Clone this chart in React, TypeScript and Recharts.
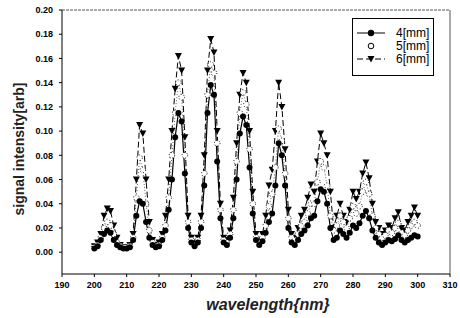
import { Line, LineChart, ReferenceLine, XAxis, YAxis } from "recharts";

const WAVELENGTHS = [
  200, 201, 202, 203, 204, 205, 206, 207, 208, 209, 210, 211, 212, 213, 214, 215, 216, 217, 218, 219,
  220, 221, 222, 223, 224, 225, 226, 227, 228, 229, 230, 231, 232, 233, 234, 235, 236, 237, 238, 239,
  240, 241, 242, 243, 244, 245, 246, 247, 248, 249, 250, 251, 252, 253, 254, 255, 256, 257, 258, 259,
  260, 261, 262, 263, 264, 265, 266, 267, 268, 269, 270, 271, 272, 273, 274, 275, 276, 277, 278, 279,
  280, 281, 282, 283, 284, 285, 286, 287, 288, 289, 290, 291, 292, 293, 294, 295, 296, 297, 298, 299,
  300,
];

const MM4 = [
  0.003, 0.005, 0.01, 0.015, 0.018, 0.016, 0.01, 0.006, 0.004, 0.003, 0.003, 0.004, 0.01, 0.03, 0.042,
  0.04, 0.025, 0.012, 0.006, 0.004, 0.005, 0.01, 0.018, 0.035, 0.06, 0.095, 0.115, 0.108, 0.065, 0.02,
  0.008, 0.005, 0.008, 0.02, 0.055, 0.115, 0.138, 0.13, 0.075, 0.028, 0.008, 0.006, 0.012, 0.028, 0.06,
  0.098, 0.112, 0.105, 0.07, 0.032, 0.01, 0.006, 0.009, 0.016, 0.025, 0.032, 0.055, 0.09, 0.08, 0.055,
  0.02, 0.008, 0.006, 0.01, 0.015, 0.018, 0.022, 0.028, 0.03, 0.042, 0.052, 0.05, 0.04, 0.02, 0.01,
  0.012, 0.018, 0.015, 0.012, 0.016, 0.022, 0.02, 0.024, 0.03, 0.034, 0.028, 0.018, 0.012, 0.008, 0.006,
  0.008, 0.01, 0.009, 0.011, 0.014, 0.01, 0.008, 0.01, 0.012, 0.014, 0.013,
];

const MM5 = [
  0.004, 0.006, 0.012, 0.02, 0.025, 0.022, 0.015, 0.008, 0.005, 0.004, 0.004, 0.005, 0.012, 0.045, 0.078,
  0.068, 0.04, 0.018, 0.008, 0.005, 0.006, 0.012, 0.022, 0.045, 0.08, 0.115, 0.14, 0.128, 0.08, 0.025,
  0.01, 0.006, 0.01, 0.025, 0.065, 0.13, 0.155, 0.148, 0.09, 0.035, 0.01, 0.008, 0.015, 0.035, 0.075,
  0.115, 0.132, 0.122, 0.085, 0.04, 0.012, 0.008, 0.012, 0.022, 0.038, 0.048, 0.07, 0.102, 0.092, 0.065,
  0.028, 0.012, 0.01, 0.015, 0.022, 0.025, 0.032, 0.04, 0.04, 0.058, 0.075, 0.07, 0.055, 0.03, 0.018,
  0.022, 0.03, 0.025, 0.02, 0.028, 0.038, 0.032, 0.038, 0.05, 0.058, 0.048, 0.03, 0.02, 0.015, 0.012,
  0.014, 0.018, 0.016, 0.02, 0.024, 0.016, 0.014, 0.018, 0.022, 0.025, 0.022,
];

const MM6 = [
  0.005, 0.008, 0.015, 0.03, 0.036, 0.034, 0.022, 0.012, 0.006, 0.004, 0.004, 0.006, 0.015, 0.06, 0.105,
  0.098, 0.06, 0.025, 0.01, 0.006, 0.008, 0.015, 0.03, 0.06, 0.1, 0.135, 0.162, 0.15, 0.095, 0.03,
  0.012, 0.008, 0.012, 0.03, 0.08, 0.15, 0.176, 0.165, 0.1, 0.04, 0.012, 0.01, 0.018, 0.045, 0.09,
  0.13, 0.148, 0.14, 0.1, 0.05, 0.015, 0.01, 0.015, 0.03, 0.055, 0.068, 0.1, 0.14, 0.12, 0.085,
  0.035, 0.015, 0.012, 0.02, 0.03, 0.035, 0.045, 0.056, 0.05, 0.075, 0.098, 0.09, 0.08, 0.05, 0.02,
  0.03, 0.04, 0.03, 0.025, 0.035, 0.05, 0.044, 0.05, 0.065, 0.074, 0.061, 0.04, 0.025, 0.02, 0.015,
  0.018, 0.022, 0.02, 0.028, 0.033, 0.02, 0.018, 0.025, 0.03, 0.037, 0.03,
];

const X_TICKS = [190, 200, 210, 220, 230, 240, 250, 260, 270, 280, 290, 300, 310];
const Y_TICKS = [0, 0.02, 0.04, 0.06, 0.08, 0.1, 0.12, 0.14, 0.16, 0.18, 0.2];
const LEGEND_NAMES = ["4[mm]", "5[mm]", "6[mm]"];

const data = WAVELENGTHS.map((w, i) => ({
  wavelength: w,
  mm4: MM4[i],
  mm5: MM5[i],
  mm6: MM6[i],
}));

const FONT = "'Liberation Sans', Arial, sans-serif";

const Triangle = (props: any) => {
  const { cx, cy, index } = props;
  if (cx == null || cy == null) return <g key={`t-${index}`} />;
  return <path key={`t-${index}`} d={`M${cx - 3.5},${cy - 3} L${cx + 3.5},${cy - 3} L${cx},${cy + 3.5} Z`} fill="#000" />;
};

const YLabel = (props: any) => {
  const { viewBox } = props;
  const x = viewBox.x + 11;
  const y = viewBox.y + viewBox.height / 2 + 7;
  return (
    <text
      x={x}
      y={y}
      transform={`rotate(-90 ${x} ${y})`}
      textAnchor="middle"
      dominantBaseline="central"
      fontSize={14}
      fontWeight="bold"
      fontFamily={FONT}
      fill="#222"
    >
      signal intensity[arb]
    </text>
  );
};

const XLabel = (props: any) => {
  const { viewBox } = props;
  return (
    <text
      x={viewBox.x + viewBox.width / 2 + 12}
      y={viewBox.y + 36}
      textAnchor="middle"
      fontSize={16}
      fontStyle="italic"
      fontWeight="bold"
      fontFamily={FONT}
      fill="#222"
    >
      wavelength{"{nm}"}
    </text>
  );
};

function LegendBox() {
  return (
    <svg width={82} height={58} style={{ position: "absolute", left: 352, top: 18 }}>
      <rect x={0.5} y={0.5} width={81} height={57} fill="#fff" stroke="#000" strokeWidth={1} />
      <line x1={5} y1={15} x2={33} y2={15} stroke="#000" />
      <circle cx={19} cy={15} r={3.2} fill="#000" />
      <text x={44} y={19} fontSize={12} fontFamily={FONT}>{LEGEND_NAMES[0]}</text>
      <circle cx={19} cy={28} r={2.8} fill="#fff" stroke="#000" />
      <text x={44} y={32} fontSize={12} fontFamily={FONT}>{LEGEND_NAMES[1]}</text>
      <line x1={5} y1={41} x2={33} y2={41} stroke="#000" strokeDasharray="6 3" />
      <path d="M15.5,38 L22.5,38 L19,44.5 Z" fill="#000" />
      <text x={44} y={45} fontSize={12} fontFamily={FONT}>{LEGEND_NAMES[2]}</text>
    </svg>
  );
}

export default function App() {
  return (
    <div style={{ position: "absolute", left: 0, top: 0, width: 460, height: 318, background: "#fff" }}>
      <LineChart width={460} height={318} data={data} margin={{ top: 10, right: 10, bottom: 14, left: 8 }}>
        <XAxis
          dataKey="wavelength"
          type="number"
          domain={[190, 310]}
          ticks={X_TICKS}
          height={30}
          tickSize={3}
          tickMargin={5}
          stroke="#000"
          tick={{ fontSize: 9, fontWeight: "bold", fill: "#000", fontFamily: FONT }}
          label={<XLabel />}
        />
        <YAxis
          type="number"
          domain={[-0.018, 0.2]}
          ticks={Y_TICKS}
          width={54}
          tickSize={3}
          tickMargin={6}
          stroke="#000"
          tickFormatter={(v: number) => v.toFixed(2)}
          tick={{ fontSize: 9, fontWeight: "bold", fill: "#000", fontFamily: FONT }}
          label={<YLabel />}
        />
        <ReferenceLine y={0.2} stroke="#555" strokeDasharray="3 1" />
        <ReferenceLine x={310} stroke="#555" />
        <Line
          dataKey="mm6"
          type="linear"
          stroke="#000"
          strokeWidth={1}
          strokeDasharray="6 3"
          dot={Triangle}
          activeDot={false}
          isAnimationActive={false}
        />
        <Line
          dataKey="mm5"
          type="linear"
          stroke="#000"
          strokeWidth={0.6}
          strokeDasharray="1 2"
          dot={{ r: 2.8, fill: "#fff", stroke: "#000", strokeWidth: 1 }}
          activeDot={false}
          isAnimationActive={false}
        />
        <Line
          dataKey="mm4"
          type="linear"
          stroke="#000"
          strokeWidth={1.2}
          dot={{ r: 3, fill: "#000", stroke: "#000", strokeWidth: 0 }}
          activeDot={false}
          isAnimationActive={false}
        />
      </LineChart>
      <LegendBox />
    </div>
  );
}
